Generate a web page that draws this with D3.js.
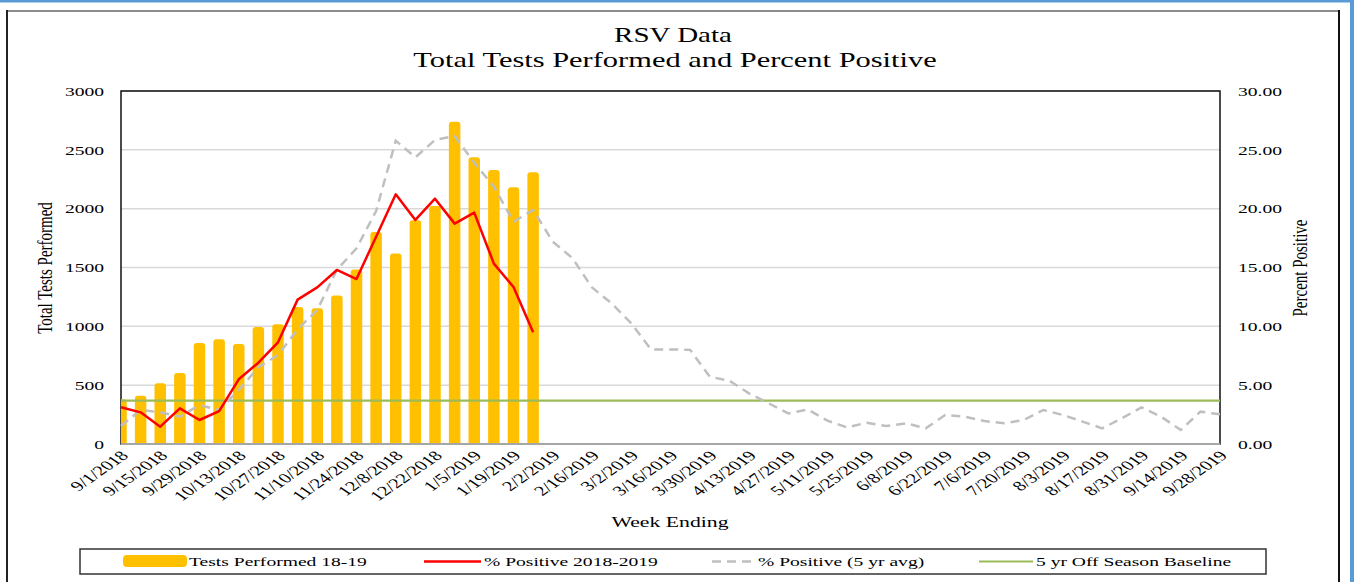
<!DOCTYPE html>
<html>
<head>
<meta charset="utf-8">
<script src="https://d3js.org/d3.v7.min.js"></script>
<style>
  body { margin: 0; background: #fff; }
  svg text { font-family: "Liberation Serif", "Times New Roman", serif; fill: #000; }
</style>
</head>
<body>
<div id="chart"></div>
<script>
// week ending dates
const weeks = [
  "9/1/2018", "9/8/2018", "9/15/2018", "9/22/2018", "9/29/2018", "10/6/2018", "10/13/2018",
  "10/20/2018", "10/27/2018", "11/3/2018", "11/10/2018", "11/17/2018", "11/24/2018", "12/1/2018",
  "12/8/2018", "12/15/2018", "12/22/2018", "12/29/2018", "1/5/2019", "1/12/2019", "1/19/2019",
  "1/26/2019", "2/2/2019", "2/9/2019", "2/16/2019", "2/23/2019", "3/2/2019", "3/9/2019",
  "3/16/2019", "3/23/2019", "3/30/2019", "4/6/2019", "4/13/2019", "4/20/2019", "4/27/2019",
  "5/4/2019", "5/11/2019", "5/18/2019", "5/25/2019", "6/1/2019", "6/8/2019", "6/15/2019",
  "6/22/2019", "6/29/2019", "7/6/2019", "7/13/2019", "7/20/2019", "7/27/2019", "8/3/2019",
  "8/10/2019", "8/17/2019", "8/24/2019", "8/31/2019", "9/7/2019", "9/14/2019", "9/21/2019",
  "9/28/2019"
];

// Tests Performed 18-19 (only through 1/26/2019)
const tests = [380, 410, 516, 603, 858, 890, 850, 994, 1017, 1164, 1153, 1261, 1484, 1802,
  1620, 1901, 2023, 2739, 2436, 2329, 2181, 2309];

// % Positive 2018-2019
const pct1819 = [3.12, 2.69, 1.47, 3.03, 2.04, 2.80, 5.50, 6.91, 8.64, 12.27, 13.31, 14.79,
  14.02, 17.62, 21.22, 19.04, 20.85, 18.73, 19.66, 15.33, 13.34, 9.49];

// % Positive (5 yr avg)
const pct5yr = [1.53, 2.89, 2.69, 2.32, 3.31, 2.89, 4.59, 6.52, 7.56, 9.75, 11.39, 14.8,
  16.63, 19.8, 25.78, 24.36, 25.84, 26.18, 23.9, 21.87, 18.89, 19.89, 17.2, 15.8, 13.3,
  11.95, 10.26, 8.04, 8.04, 8.0, 5.72, 5.38, 4.3, 3.46, 2.6, 2.94, 1.98, 1.41, 1.81, 1.53,
  1.76, 1.33, 2.46, 2.32, 1.95, 1.76, 2.04, 2.89, 2.46, 1.9, 1.33, 2.18, 3.12, 2.32, 1.19,
  2.75, 2.52];

// 5 yr Off Season Baseline
const baseline = 3.68;

const leftTicks = [0, 500, 1000, 1500, 2000, 2500, 3000];
const rightTicks = [0, 5, 10, 15, 20, 25, 30];
const labelWeeks = weeks.filter((d, i) => i % 2 === 0);

const width = 1354;
const height = 582;
const SX = 1.45; // the picture is stretched sideways, so is the text

const plotL = 121, plotR = 1220, plotT = 91, plotB = 444;

const svg = d3.select("#chart").append("svg")
  .attr("width", width)
  .attr("height", height);

// outer frames
svg.append("rect").attr("x", 0).attr("y", 0).attr("width", width).attr("height", 2.5).attr("fill", "#5b9bd5");
svg.append("rect").attr("x", 1350).attr("y", 0).attr("width", 4).attr("height", height).attr("fill", "#5b9bd5");
svg.append("line").attr("x1", 7).attr("x2", 1339).attr("y1", 11).attr("y2", 11)
  .attr("stroke", "#666").attr("stroke-width", 1.5);
svg.append("line").attr("x1", 7).attr("x2", 7).attr("y1", 10).attr("y2", height)
  .attr("stroke", "#222").attr("stroke-width", 2);
svg.append("line").attr("x1", 1339).attr("x2", 1339).attr("y1", 10).attr("y2", height)
  .attr("stroke", "#111").attr("stroke-width", 2);

const x = d3.scalePoint().domain(weeks).range([plotL, plotR]);
const yL = d3.scaleLinear().domain([0, 3000]).range([plotB, plotT]);
const yR = d3.scaleLinear().domain([0, 30]).range([plotB, plotT]);

// title
const title = svg.append("g");
title.append("text").attr("text-anchor", "middle").attr("font-size", 20)
  .attr("transform", `translate(673,42) scale(${SX},1)`).text("RSV Data");
title.append("text").attr("text-anchor", "middle").attr("font-size", 21)
  .attr("transform", `translate(675,67) scale(${SX},1)`).text("Total Tests Performed and Percent Positive");

// gridlines
svg.append("g").selectAll("line")
  .data(leftTicks.slice(1))
  .join("line")
  .attr("x1", plotL).attr("x2", plotR)
  .attr("y1", (d) => yL(d)).attr("y2", (d) => yL(d))
  .attr("stroke", "#d9d9d9").attr("stroke-width", 1.5);

// plot border
svg.append("rect")
  .attr("x", plotL).attr("y", plotT)
  .attr("width", plotR - plotL).attr("height", plotB - plotT)
  .attr("fill", "none").attr("stroke", "#111").attr("stroke-width", 1.5);

svg.append("clipPath").attr("id", "plot-clip")
  .append("rect").attr("x", plotL).attr("y", plotT - 5)
  .attr("width", plotR - plotL).attr("height", plotB - plotT + 5);

// bars
const barW = 11.5;
svg.append("g").attr("clip-path", "url(#plot-clip)")
  .selectAll("path")
  .data(tests)
  .join("path")
  .attr("fill", "#ffc000")
  .attr("d", (d, i) => {
    const cx = x(weeks[i]);
    const x0 = cx - barW / 2, x1 = cx + barW / 2;
    const yt = yL(d), r = 3;
    return `M${x0},${plotB}V${yt + r}Q${x0},${yt} ${x0 + r},${yt}H${x1 - r}Q${x1},${yt} ${x1},${yt + r}V${plotB}Z`;
  });

// bottom axis line
svg.append("line").attr("x1", plotL).attr("x2", plotR).attr("y1", plotB).attr("y2", plotB)
  .attr("stroke", "#a6a6a6").attr("stroke-width", 2);

// baseline
svg.append("line").attr("x1", plotL).attr("x2", plotR)
  .attr("y1", yR(baseline)).attr("y2", yR(baseline))
  .attr("stroke", "#9bbb59").attr("stroke-width", 2.2);

// 5 yr average
const line = d3.line().x((d, i) => x(weeks[i])).y((d) => yR(d));
svg.append("path").datum(pct5yr)
  .attr("d", line)
  .attr("fill", "none").attr("stroke", "#bfbfbf")
  .attr("stroke-width", 2.5).attr("stroke-dasharray", "9,6");

// 2018-2019
svg.append("path").datum(pct1819)
  .attr("d", line)
  .attr("fill", "none").attr("stroke", "#ff0000")
  .attr("stroke-width", 2.5).attr("stroke-linejoin", "round");

// left axis
const axL = svg.append("g").attr("transform", `translate(${plotL},0)`)
  .call(d3.axisLeft(yL).tickValues(leftTicks).tickSize(0).tickFormat(d3.format("d")));
axL.select(".domain").remove();
axL.selectAll("text")
  .attr("x", 0).attr("font-size", 13.5)
  .attr("transform", `translate(-17,0) scale(${SX},1)`);
axL.attr("font-family", null).attr("font-size", null);

// right axis
const axR = svg.append("g").attr("transform", `translate(${plotR},0)`)
  .call(d3.axisRight(yR).tickValues(rightTicks).tickSize(0).tickFormat(d3.format(".2f")));
axR.select(".domain").remove();
axR.selectAll("text")
  .attr("x", 0).attr("font-size", 13.5)
  .attr("transform", `translate(18,0) scale(${SX},1)`);
axR.attr("font-family", null).attr("font-size", null);

// x axis
const axX = svg.append("g").attr("transform", `translate(0,${plotB})`)
  .call(d3.axisBottom(x).tickValues(labelWeeks).tickSize(0));
axX.select(".domain").remove();
axX.selectAll("text")
  .attr("x", 0).attr("y", 0).attr("dy", "0.35em")
  .attr("text-anchor", "end")
  .attr("font-size", 14)
  .attr("transform", `translate(3,9) scale(${SX},1) rotate(-45)`);
axX.attr("font-family", null).attr("font-size", null);

// axis titles
svg.append("text").attr("text-anchor", "middle").attr("font-size", 15)
  .attr("transform", `translate(52,268) scale(${SX},1) rotate(-90)`)
  .text("Total Tests Performed");
svg.append("text").attr("text-anchor", "middle").attr("font-size", 15)
  .attr("transform", `translate(1307,268) scale(${SX},1) rotate(-90)`)
  .text("Percent Positive");
svg.append("text").attr("text-anchor", "middle").attr("font-size", 15)
  .attr("transform", `translate(670,527) scale(${SX},1)`)
  .text("Week Ending");

// legend
const lg = svg.append("g");
lg.append("rect").attr("x", 80).attr("y", 549).attr("width", 1186).attr("height", 25)
  .attr("fill", "#fff").attr("stroke", "#333").attr("stroke-width", 1.5);
const ly = 561.5;
lg.append("rect").attr("x", 123).attr("y", 555).attr("width", 64).attr("height", 12)
  .attr("rx", 4).attr("fill", "#ffc000");
lg.append("line").attr("x1", 424).attr("x2", 481).attr("y1", ly).attr("y2", ly)
  .attr("stroke", "#ff0000").attr("stroke-width", 2.5);
lg.append("line").attr("x1", 712).attr("x2", 755).attr("y1", ly).attr("y2", ly)
  .attr("stroke", "#bfbfbf").attr("stroke-width", 2.5).attr("stroke-dasharray", "9,6");
lg.append("line").attr("x1", 979).attr("x2", 1033).attr("y1", ly).attr("y2", ly)
  .attr("stroke", "#9bbb59").attr("stroke-width", 2.2);
const legendText = [
  { x: 189, t: "Tests Performed 18-19" },
  { x: 484, t: "% Positive 2018-2019" },
  { x: 758, t: "% Positive (5 yr avg)" },
  { x: 1036, t: "5 yr Off Season Baseline" }
];
lg.selectAll("text.lt").data(legendText).join("text")
  .attr("class", "lt")
  .attr("font-size", 13.5)
  .attr("transform", (d) => `translate(${d.x},${ly + 4.5}) scale(${SX},1)`)
  .text((d) => d.t);
</script>
</body>
</html>
